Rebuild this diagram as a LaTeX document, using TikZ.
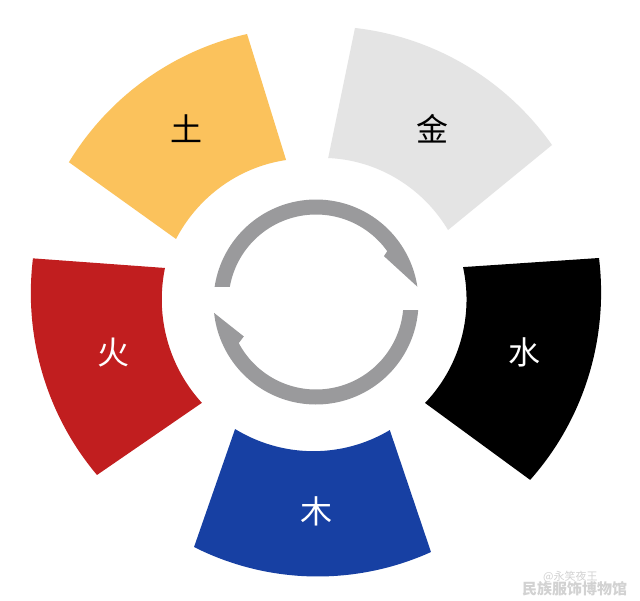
\documentclass[tikz,border=0pt]{standalone}
\usepackage{fontspec}
\newfontfamily\cjk{Noto Sans CJK SC}
\definecolor{tuY}{HTML}{FBC25C}
\definecolor{jinG}{HTML}{E4E4E4}
\definecolor{huoR}{HTML}{C11E1F}
\definecolor{muB}{HTML}{1740A3}
\definecolor{ringG}{HTML}{9A9A9C}
\definecolor{wmG}{HTML}{D2D2D2}
% #1 colour, inner start angle/radius, inner end angle/radius, outer start angle/radius, outer end angle/radius
\newcommand\fanseg[9]{%
  \fill[#1] plot[domain=0:1,samples=60]
    ({316+((#3)+((#5)-(#3))*\x)*cos((#2)+((#4)-(#2))*\x)},{302-((#3)+((#5)-(#3))*\x)*sin((#2)+((#4)-(#2))*\x)})
    -- plot[domain=0:1,samples=60]
    ({316+((#9)+((#7)-(#9))*\x)*cos((#8)+((#6)-(#8))*\x)},{302-((#9)+((#7)-(#9))*\x)*sin((#8)+((#6)-(#8))*\x)})
    -- cycle;}
\tikzset{
  elemlabel/.style={font=\cjk\fontsize{32}{32}\selectfont, inner sep=0pt},
  watermark/.style={text=wmG, inner sep=0pt, anchor=west}
}
\begin{document}
\begin{tikzpicture}[x=1pt,y=-1pt]
\fill[white] (0,0) rectangle (640,600);
\useasboundingbox (0,0) rectangle (640,600);
% five sectors
\fanseg{muB}{-122.5}{150.6}{-60.0}{147.8}{-116.5}{273.7}{-65.3}{275.2}
\fanseg{black}{-42.8}{148.6}{13.4}{151.1}{-39.75}{278.4}{8.84}{286.4}
\fanseg{jinG}{28.6}{150.4}{85.2}{144.5}{33.6}{283.5}{81.9}{276.8}
\fanseg{tuY}{101.9}{145.1}{155.8}{153.5}{104.4}{276.7}{150.5}{283.9}
\fanseg{huoR}{167.3}{154.8}{221.5}{152.3}{171.2}{286.4}{218.3}{279.1}
% cycle arrows
\fill[ringG] plot[domain=0:1,samples=80] ({316+102.5*cos(171.5-163*\x)},{302-102.5*sin(171.5-163*\x)})
  -- ({316+82*cos(34)},{302-82*sin(34)})
  -- plot[domain=0:1,samples=80] ({316+87.5*cos(35.5+134.6*\x)},{302-87.5*sin(35.5+134.6*\x)})
  -- cycle;
\fill[ringG] plot[domain=0:1,samples=80] ({316+102.5*cos(-4.5-169.5*\x)},{302-102.5*sin(-4.5-169.5*\x)})
  -- ({316+80*cos(-154.5)},{302-80*sin(-154.5)})
  -- plot[domain=0:1,samples=80] ({316+87.5*cos(-152+146.8*\x)},{302-87.5*sin(-152+146.8*\x)})
  -- cycle;
% labels
\node[elemlabel, text=black] (tu) at (186,129) {土};
\node[elemlabel, text=black] (jin) at (432,128.5) {金};
\node[elemlabel, text=white] (huo) at (113.5,353) {火};
\node[elemlabel, text=white] (shui) at (524,352.5) {水};
\node[elemlabel, text=white] (mu) at (316.5,511) {木};
% watermark
\node[watermark, font=\cjk\fontsize{11}{11}\selectfont] (wm1) at (543,577) {@永笑夜王};
\node[watermark, font=\cjk\bfseries\fontsize{15}{15}\selectfont] (wm2) at (522,589) {民族服饰博物馆};
\end{tikzpicture}
\end{document}
